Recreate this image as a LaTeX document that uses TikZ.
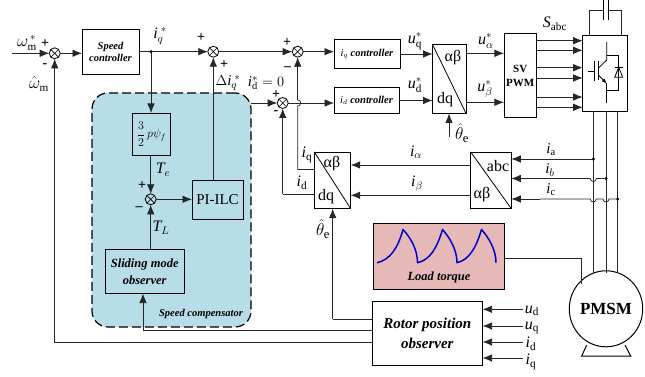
\documentclass[tikz,border=0pt]{standalone}
\usepackage{fontspec}
\setmainfont{Liberation Serif}
\usetikzlibrary{arrows.meta,calc,shapes.geometric}
\newcommand{\vi}{\mathit{i}}
\newcommand{\vu}{\mathit{u}}
\newcommand{\rmq}{\mathrm{q}}
\newcommand{\rmd}{\mathrm{d}}
\tikzset{
  x=1pt,y=-1pt,
  wire/.style={line width=0.75pt,black!85},
  arr/.style={wire,-{Latex[length=9.5pt,width=7.5pt]}},
  bx/.style={draw,line width=0.8pt,inner sep=0,outer sep=0,align=center,font=\fontsize{10.5}{12.5}\selectfont\bfseries\itshape},
  sumn/.style={draw,circle,line width=0.8pt,minimum size=11pt,inner sep=0,outer sep=0,
    path picture={\draw[line width=0.6pt] (path picture bounding box.north west)--(path picture bounding box.south east)
      (path picture bounding box.north east)--(path picture bounding box.south west);}},
  lab/.style={inner sep=0,font=\fontsize{16}{18}\selectfont},
  sgn/.style={inner sep=0,font=\fontsize{14}{15}\selectfont\bfseries},
  slab/.style={inner sep=0,font=\fontsize{15}{17}\selectfont},
  conv/.style={inner sep=0,font=\fontsize{16}{18}\selectfont}
}
\begin{document}
\begin{tikzpicture}
\useasboundingbox (0,0) rectangle (645,377);
% compensator
\node[draw,dash pattern=on 9pt off 4pt,line width=1.2pt,fill={rgb,255:red,183;green,221;blue,232},rounded corners=16pt,minimum width=159pt,minimum height=234pt,inner sep=0,outer sep=0] (comp) at (171.5,210) {};
% blocks
\node[bx,minimum width=57pt,minimum height=45pt] (sc) at (110.5,52) {Speed\\[-1pt]controller};
\node[bx,minimum width=66pt,minimum height=29pt] (iqc) at (367,54) {$\vi_q$ controller};
\node[bx,minimum width=65pt,minimum height=26pt] (idc) at (366.5,100.5) {$\vi_d$ controller};
\node[bx,minimum width=33.5pt,minimum height=69pt] (pk) at (449.3,79) {};
\node[bx,minimum width=32.5pt,minimum height=84pt,font=\fontsize{11}{13}\selectfont\bfseries] (sv) at (520.2,75.5) {SV\\[1pt]PWM};
\node[bx,minimum width=44.6pt,minimum height=76pt] (inv) at (605,73) {};
\node[bx,minimum width=38pt,minimum height=42pt] (tq) at (151.5,134) {};
\node[bx,minimum width=51pt,minimum height=39.5pt,font=\fontsize{15}{17}\selectfont] (ilc) at (217.5,199.8) {PI-ILC};
\node[bx,minimum width=79.5pt,minimum height=44pt,font=\fontsize{12.5}{17}\selectfont\bfseries\itshape] (smo) at (144.7,271.5) {Sliding mode\\observer};
\node[bx,minimum width=36.4pt,minimum height=56.7pt] (pd) at (332.5,180.3) {};
\node[bx,minimum width=40.6pt,minimum height=56.7pt] (cl) at (491,180.3) {};
\node[bx,minimum width=131.5pt,minimum height=65.5pt,fill={rgb,255:red,230;green,184;blue,183}] (lt) at (438.8,256.2) {};
\node[bx,minimum width=110.5pt,minimum height=64pt,font=\fontsize{15}{20}\selectfont\bfseries\itshape] (rp) at (427.3,333.5) {Rotor position\\observer};
\node[draw,ellipse,line width=1pt,inner sep=0,outer sep=0,minimum width=66.5pt,minimum height=76pt,font=\fontsize{17}{19}\selectfont\bfseries] (m) at (606,308.8) {PMSM};
% summers
\node[sumn] (s1) at (54.7,53.3) {};
\node[sumn] (s2) at (213.3,51.7) {};
\node[sumn] (s3) at (297.7,51.7) {};
\node[sumn] (s4) at (282.7,103) {};
\node[sumn] (s5) at (150.7,199.3) {};
% diagonals
\draw[line width=0.8pt] (pk.north west)--(pk.south east);
\draw[line width=0.8pt] (pd.north west)--(pd.south east);
\draw[line width=0.8pt] (cl.north west)--(cl.south east);
% forward path
\coordinate (in) at (12,53.3);
\coordinate (j1) at (151,51.7);
\draw[arr] (in)--(s1);
\draw[arr] (s1)--(sc.west |- s1);
\draw[arr] (sc.east |- j1)--(s2);
\draw[arr] (s2)--(s3);
\draw[arr] (s3)--(iqc.west |- s3);
\coordinate (j2) at (297.7,103);
\draw[arr] (comp.east |- s4)--(s4);
\draw[wire] (s4)--(j2);
\draw[arr] (j2)--(idc.west |- s4);
\draw[arr] (iqc.east)--(pk.west |- iqc.east);
\draw[arr] (idc.east)--(pk.west |- idc.east);
\draw[arr] (pk.east |- 0,53.3)--(sv.west |- 0,53.3);
\draw[arr] (pk.east |- 0,102.3)--(sv.west |- 0,102.3);
\foreach \yy in {40.7,50.3,67.7,78,97,107.3}{\draw[arr] (sv.east |- 0,\yy)--(inv.west |- 0,\yy);}
\coordinate (th1) at (449,137);
\draw[arr] (th1)--(th1 |- pk.south);
% compensator inner
\fill (j1) circle (1.7pt);
\draw[arr] (j1)--(j1 |- tq.north);
\draw[arr] (tq.south -| s5)--(s5);
\draw[arr] (s5)--(ilc.west |- s5);
\draw[arr] (ilc.north -| s2)--(s2);
\draw[arr] (smo.north -| s5)--(s5);
% current loops
\coordinate (c3) at (297.7,169.5);
\coordinate (c4) at (282.7,194);
\draw[wire] (pd.west |- c3)--(c3)--(297.7,106) arc[start angle=-90,end angle=90,radius=3pt];
\draw[arr] (297.7,100)--(s3);
\draw[wire] (pd.west |- c4)--(c4);
\draw[arr] (c4)--(s4);
\draw[arr] (cl.west |- 0,165)--(pd.east |- 0,165);
\draw[arr] (cl.west |- 0,195.3)--(pd.east |- 0,195.3);
% phases
\coordinate (pa) at (593.3,159);
\coordinate (pb) at (606,178.5);
\coordinate (pc) at (617.7,199);
\foreach \xx in {593.3,606,617.7}{\draw[wire] (\xx,111)--(\xx,273);}
\fill (pa) circle (1.7pt) (pb) circle (1.7pt) (pc) circle (1.7pt);
\draw[arr] (pa)--(cl.east |- pa);
\draw[wire] (pb)--(596.3,178.5) arc[start angle=0,end angle=-180,radius=3pt] -- (540,178.5);
\draw[arr] (540,178.5)--(cl.east |- pb);
\draw[wire] (pc)--(609,199) arc[start angle=0,end angle=-180,radius=3pt] -- (596.3,199) arc[start angle=0,end angle=-180,radius=3pt] -- (540,199);
\draw[arr] (540,199)--(cl.east |- pc);
% observer
\coordinate (o1) at (332.7,319.3);
\draw[wire] (rp.west |- o1)--(o1);
\draw[arr] (o1)--(o1 |- pd.south);
\coordinate (o2) at (143,330.7);
\draw[wire] (rp.west |- o2)--(o2);
\draw[arr] (o2)--(o2 |- smo.south);
\coordinate (o3) at (54.7,342.7);
\draw[wire] (rp.west |- o3)--(o3);
\draw[arr] (o3)--(s1);
\foreach \yy in {309.3,326,342,358}{\coordinate (t) at (523,\yy);\draw[arr] (t)--(rp.east |- t);}
% load
\coordinate (l1) at (581,258);
\draw[wire] (lt.east |- l1)--(l1)--(581,284);
\draw[line width=1.5pt,blue!80!black,line join=round]
  (377,262.7) .. controls (390,260) and (398,248) .. (403,229.5)
  .. controls (411,238) and (417.5,250) .. (417.5,262.7)
  .. controls (430,260) and (437,248) .. (442.5,229.5)
  .. controls (450,238) and (457,250) .. (457,262.7)
  .. controls (469,260) and (476,248) .. (481.5,229.5)
  .. controls (489,238) and (496,250) .. (496,262.7);
\node[inner sep=0,font=\fontsize{12.5}{14}\selectfont\bfseries\itshape] (ltl) at (439,277) {Load torque};
% motor base
\draw[line width=1pt] (586.7,345)--(581.7,356)--(630.7,356)--(625,345);
% inverter
\draw[wire] (589,35)--(589,10)--(603.7,10) (621.5,35)--(621.5,10)--(608.7,10);
\draw[line width=0.9pt] (603.7,0)--(603.7,20) (608.7,0)--(608.7,20);
\begin{scope}[line width=0.8pt]
\draw (606.7,42)--(606.7,60)--(598.3,68.3);
\draw[line width=1.1pt] (598.3,61.5)--(598.3,80);
\draw[line width=1.1pt] (594.3,61.5)--(594.3,81.5);
\draw (587.7,71)--(594.3,71);
\draw[-{Latex[length=5pt,width=4pt]}] (598.3,75)--(606.7,83.5);
\draw (606.7,83)--(606.7,103);
\draw (606.7,55)--(618.7,55)--(618.7,90.7)--(606.7,90.7);
\draw (614.7,77.3)--(622.7,77.3)--(618.7,67.3)--cycle;
\draw (614.7,67.3)--(622.7,67.3);
\end{scope}
% texts
\node[lab] (t1) at (27,43) {$\omega_{\mathrm{m}}^{\,*}$};
\node[lab] (t2) at (39,84) {$\hat{\omega}_{\mathrm{m}}$};
\node[lab] (t3) at (160,36) {$\vi_{q}^{\;*}$};
\node[lab,font=\fontsize{15}{17}\selectfont] (t4) at (228,83) {$\Delta\vi_{q}^{\;*}$};
\node[lab,font=\fontsize{15}{17}\selectfont] (t5) at (266,83) {$\vi_{\rmd}^{*}=0$};
\node[lab] (t6) at (415,41) {$\vu_{\rmq}^{*}$};
\node[lab] (t7) at (415,85) {$\vu_{\rmd}^{*}$};
\node[lab] (t8) at (486,41) {$\vu_{\alpha}^{*}$};
\node[lab] (t9) at (485,89) {$\vu_{\beta}^{*}$};
\node[lab] (t10) at (555,24) {$\mathit{S}_{\mathrm{abc}}$};
\node[lab,font=\fontsize{18}{20}\selectfont] (t11) at (462,133) {$\hat{\theta}_{\mathrm{e}}$};
\node[lab,font=\fontsize{18}{20}\selectfont] (t12) at (323,229) {$\hat{\theta}_{\mathrm{e}}$};
\node[lab] (t13) at (163,170) {$\mathit{T}_{e}$};
\node[lab] (t14) at (161,228) {$\mathit{T}_{L}$};
\node[lab] (t15) at (307,155) {$\vi_{\rmq}$};
\node[lab] (t16) at (302,183) {$\vi_{\rmd}$};
\node[lab] (t17) at (416,152) {$\vi_{\alpha}$};
\node[lab] (t18) at (417,184) {$\vi_{\beta}$};
\node[slab] (t19) at (551,150) {$\vi_{\mathrm{a}}$};
\node[slab] (t20) at (550,170) {$\vi_{b}$};
\node[slab] (t21) at (551,190) {$\vi_{\mathrm{c}}$};
\node[lab] (t22) at (532,311) {$\vu_{\rmd}$};
\node[lab] (t23) at (532,328) {$\vu_{\rmq}$};
\node[lab] (t24) at (531,344) {$\vi_{\rmd}$};
\node[lab] (t25) at (531,362) {$\vi_{\rmq}$};
\node[inner sep=0,font=\fontsize{10.5}{12}\selectfont\bfseries\itshape] (t26) at (201,313.5) {Speed compensator};
\node[conv] (c1) at (453,58) {αβ};
\node[conv] (c2) at (445,100) {dq};
\node[conv] (c3t) at (332,164) {αβ};
\node[conv] (c4t) at (326,197) {dq};
\node[conv] (c5) at (498,166) {abc};
\node[conv] (c6) at (482,195) {αβ};
\node[inner sep=0,font=\fontsize{12}{14}\selectfont] (fr) at (151.5,134) {$\displaystyle\frac{3}{2}\,p\psi_{f}$};
% signs
\node[sgn] (g1) at (45,44) {+};
\node[sgn] (g2) at (45,66) {-};
\node[sgn] (g3) at (201,38) {+};
\node[sgn] (g4) at (224,65) {+};
\node[sgn] (g5) at (287,43) {+};
\node[sgn] (g6) at (287.5,69) {–};
\node[sgn] (g7) at (276,95) {+};
\node[sgn] (g8) at (276,113) {-};
\node[sgn] (g9) at (142,186) {+};
\node[sgn] (g10) at (139,209) {–};
\end{tikzpicture}
\end{document}
